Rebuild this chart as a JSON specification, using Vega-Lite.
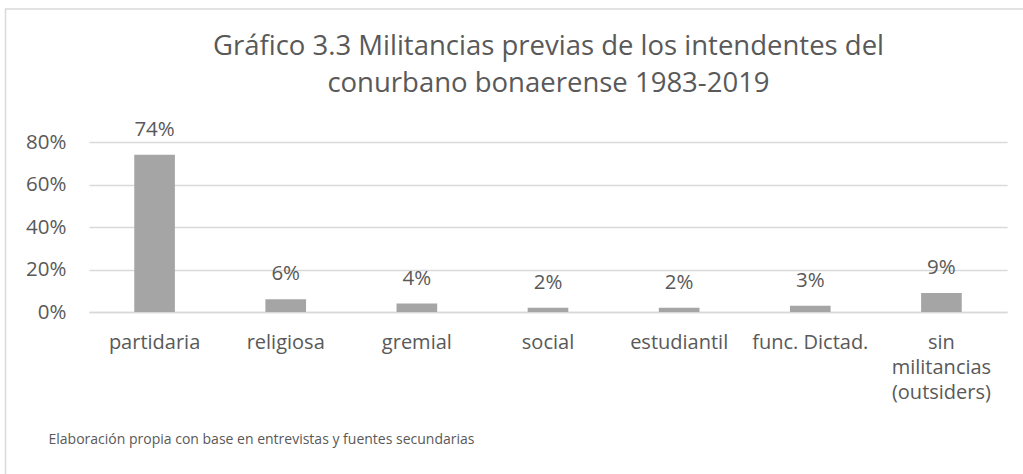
{
  "$schema": "https://vega.github.io/schema/vega-lite/v6.json",
  "width": 1019,
  "height": 468,
  "autosize": {"type": "none"},
  "padding": {"left": 5.5, "top": 9, "right": -1.5, "bottom": -3},
  "background": "white",
  "config": {
    "font": "Open Sans",
    "view": {"stroke": "#d9d9d9", "strokeWidth": 1.5}
  },
  "title": {
    "text": ["Gráfico 3.3 Militancias previas de los intendentes del", "conurbano bonaerense 1983-2019"],
    "font": "Open Sans",
    "fontSize": 27.5,
    "fontWeight": "normal",
    "color": "#595959",
    "anchor": "middle",
    "frame": "group",
    "lineHeight": 37,
    "dx": 33.5,
    "offset": -88
  },
  "data": {
    "values": [
      {"categoria": "partidaria", "valor": 0.74},
      {"categoria": "religiosa", "valor": 0.06},
      {"categoria": "gremial", "valor": 0.04},
      {"categoria": "social", "valor": 0.02},
      {"categoria": "estudiantil", "valor": 0.02},
      {"categoria": "func. Dictad.", "valor": 0.03},
      {"categoria": "sin militancias (outsiders)", "valor": 0.09}
    ]
  },
  "encoding": {
    "x": {
      "field": "categoria",
      "type": "nominal",
      "sort": null,
      "scale": {"range": [83.5, 1001.5], "paddingInner": 0.69, "paddingOuter": 0.345},
      "axis": {
        "orient": "bottom",
        "offset": -165,
        "labelAngle": 0,
        "labelFont": "Open Sans",
        "labelFontSize": 20,
        "labelColor": "#595959",
        "labelPadding": 20,
        "labelLineHeight": 25,
        "labelBaseline": "top",
        "labelExpr": "datum.value == 'sin militancias (outsiders)' ? ['sin', 'militancias', '(outsiders)'] : datum.label",
        "ticks": false,
        "tickSize": 0,
        "domain": true,
        "domainColor": "#d9d9d9",
        "domainWidth": 1.5,
        "grid": false,
        "title": "Elaboración propia con base en entrevistas y fuentes secundarias",
        "titleFont": "Open Sans",
        "titleFontSize": 14,
        "titleFontWeight": "normal",
        "titleColor": "#595959",
        "titleAnchor": "start",
        "titleAlign": "left",
        "titleBaseline": "alphabetic",
        "titleX": 42.5,
        "titleY": 131
      }
    },
    "y": {
      "field": "valor",
      "type": "quantitative",
      "scale": {"domain": [0, 0.8], "range": [303, 133], "nice": false, "zero": true},
      "axis": {
        "orient": "left",
        "offset": -83.5,
        "values": [0, 0.2, 0.4, 0.6, 0.8],
        "format": ".0%",
        "labelFont": "Open Sans",
        "labelFontSize": 20.5,
        "labelColor": "#595959",
        "labelPadding": 23,
        "ticks": false,
        "tickSize": 0,
        "domain": false,
        "grid": true,
        "gridColor": "#d9d9d9",
        "gridWidth": 1.3,
        "title": null
      }
    }
  },
  "layer": [
    {"mark": {"type": "bar", "color": "#a5a5a5"}},
    {
      "mark": {"type": "text", "baseline": "alphabetic", "align": "center", "dy": -19, "font": "Open Sans", "fontSize": 20.5, "color": "#595959"},
      "encoding": {"text": {"field": "valor", "type": "quantitative", "format": ".0%"}}
    }
  ]
}
